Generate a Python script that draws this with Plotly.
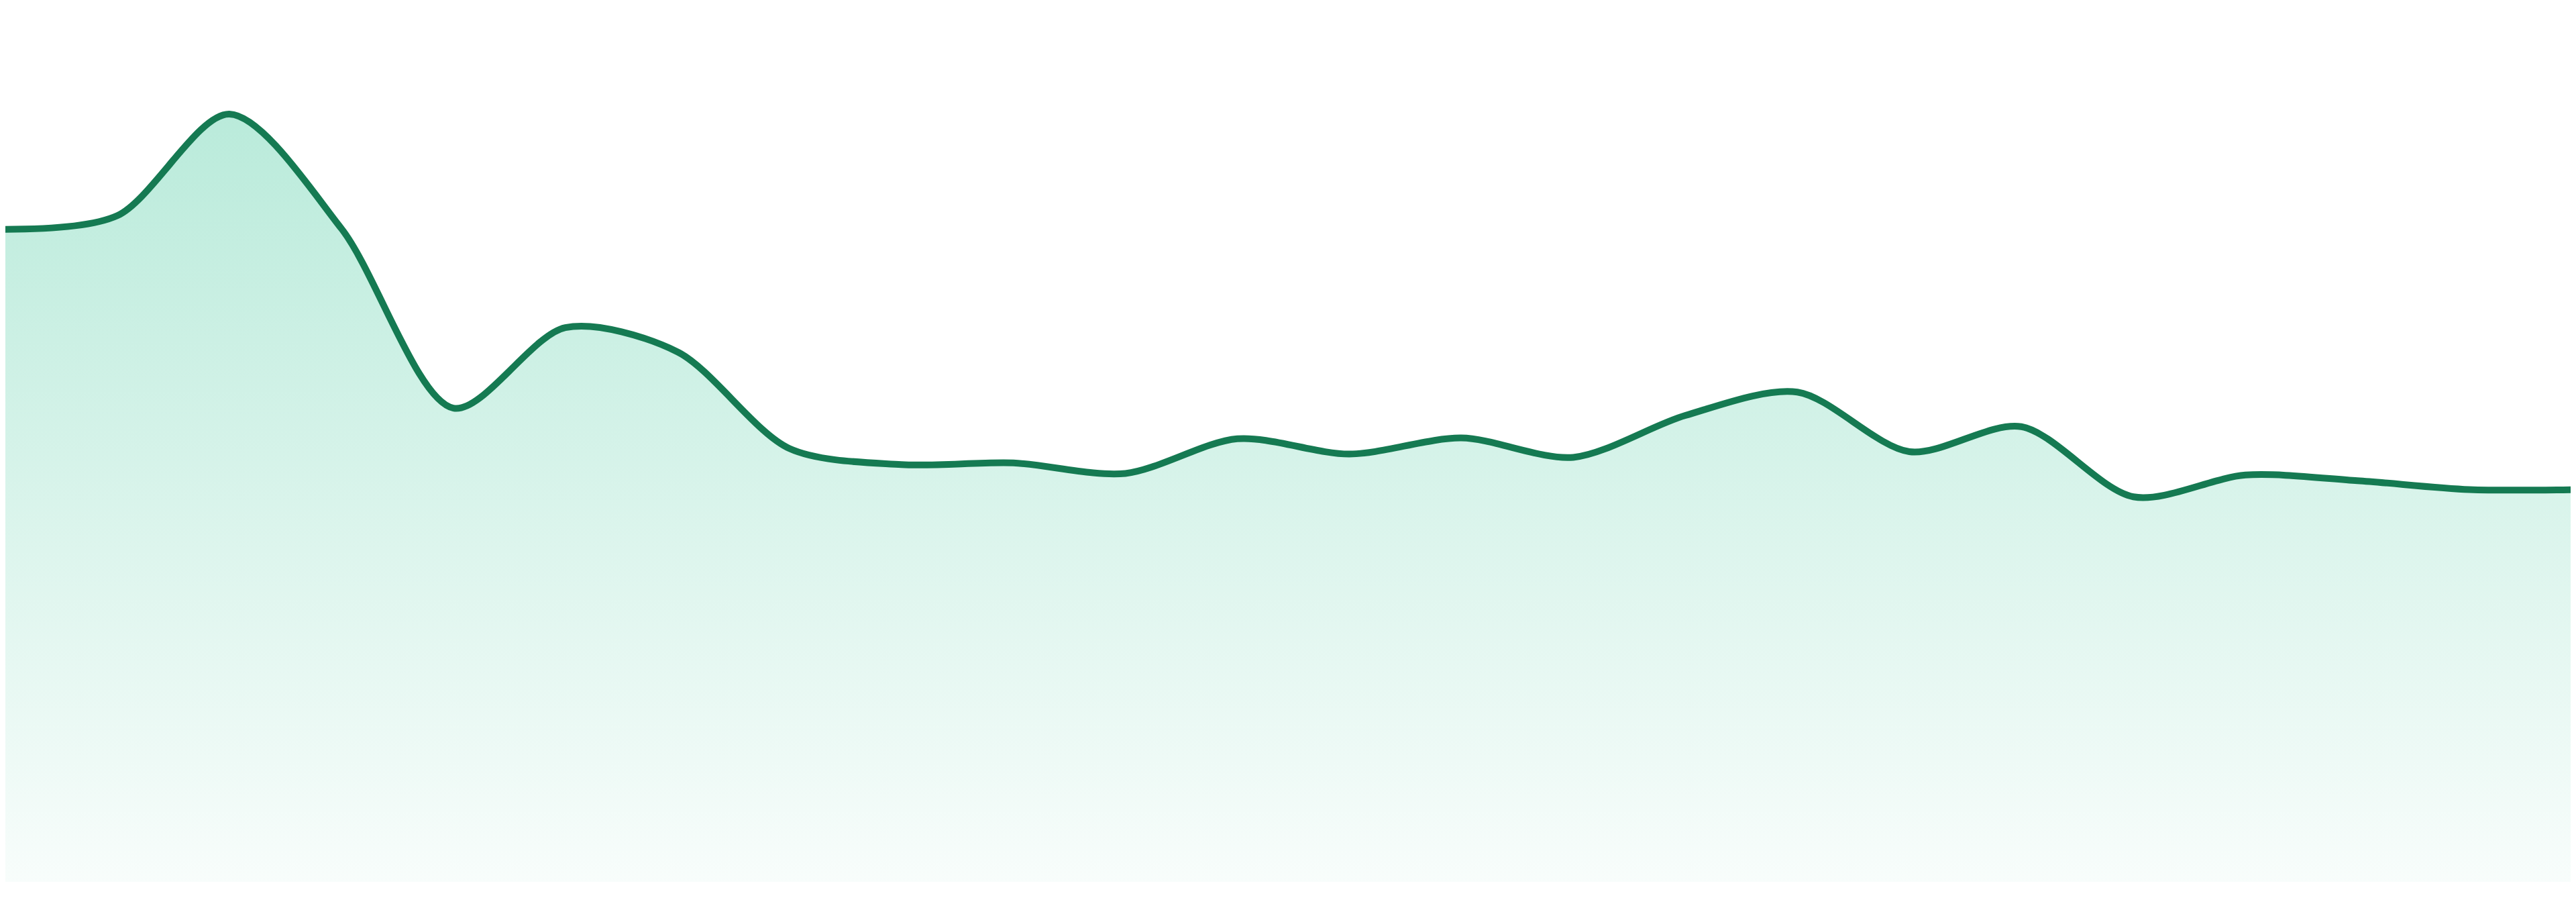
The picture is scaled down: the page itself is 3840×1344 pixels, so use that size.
import plotly.graph_objects as go

# one point per step
steps = list(range(24))
values = [81.0, 82.7, 95.3, 81.1, 58.8, 68.8, 65.8, 53.8, 51.8, 52.0, 50.7, 55.0,
          53.1, 55.1, 52.7, 57.9, 60.8, 53.4, 56.5, 47.8, 50.5, 49.8, 48.7, 48.7]

line_color = '#157a52'

fig = go.Figure()

fig.add_trace(go.Scatter(
    x=steps,
    y=values,
    mode='lines',
    line=dict(color=line_color, width=10, shape='spline', smoothing=0.85),
    fill='tozeroy',
    fillgradient=dict(
        type='vertical',
        start=0,
        stop=max(values),
        colorscale=[[0, 'rgba(16,185,129,0.03)'],
                    [1, 'rgba(16,185,129,0.29)']]
    ),
    hoverinfo='skip'
))

fig.update_layout(width=3840, height=1344,
                  margin=dict(l=0, r=0, t=0, b=38),
                  paper_bgcolor='white', plot_bgcolor='white',
                  showlegend=False)

fig.update_xaxes(range=[0, 23], visible=False, showgrid=False, zeroline=False)
fig.update_yaxes(range=[0, 108.8], visible=False, showgrid=False, zeroline=False)

fig.write_html("out.html", config={'displayModeBar': False})
